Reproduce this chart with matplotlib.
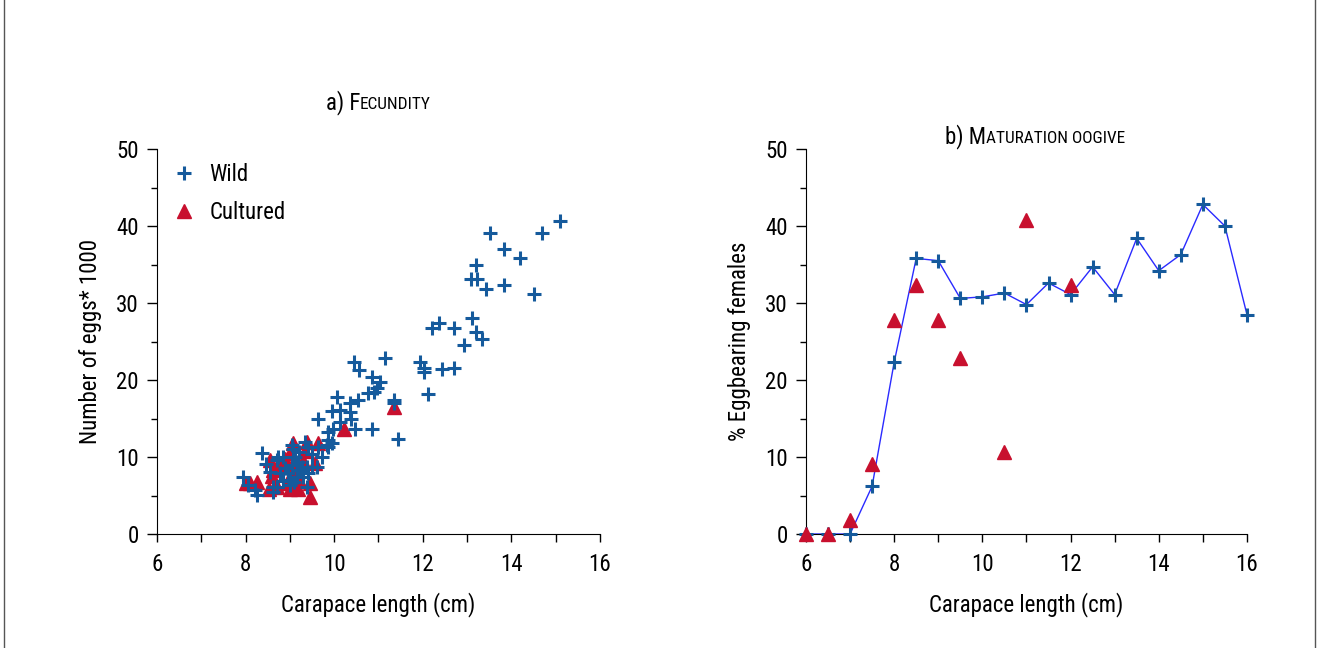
import matplotlib
matplotlib.use("Agg")
import matplotlib.pyplot as plt
from matplotlib import font_manager
from matplotlib.ticker import MultipleLocator
from matplotlib.lines import Line2D

names = {f.name for f in font_manager.fontManager.ttflist}
if "Roboto Condensed" in names:
    FONT = ["Roboto Condensed", "DejaVu Sans"]
    FS = 16.5
else:
    FONT = ["Roboto", "DejaVu Sans"]
    FS = 16
plt.rcParams["font.family"] = FONT
plt.rcParams["font.size"] = FS

WILD_BLUE = "#155a9c"
CULT_RED = "#c8102e"
LINE_BLUE = "#2a2aff"

# a) fecundity - wild females (carapace length cm, eggs * 1000)
wild_len = [7.95, 8.05, 8.21, 8.25, 8.38, 8.45, 8.63, 8.55, 8.70, 8.74,
            8.85, 8.78, 8.85, 8.96, 9.00, 8.70, 8.63, 9.04, 9.08, 9.34,
            9.42, 9.12, 9.19, 9.27, 9.38, 9.49, 9.23, 9.15, 9.30, 9.42,
            9.61, 9.00, 9.38, 9.64, 9.72, 9.83, 9.87, 9.94, 9.86, 9.64,
            9.87, 9.98, 9.94, 10.13, 10.06, 10.36, 10.36, 10.37, 10.13, 10.47,
            10.54, 10.77, 10.90, 10.97, 10.85, 11.03, 10.45, 10.55, 11.14, 10.85,
            11.36, 11.36, 11.45, 11.94, 12.03, 12.03, 12.43, 12.70, 12.12, 12.20,
            12.36, 12.71, 13.21, 13.34, 12.94, 13.11, 13.10, 13.22, 13.21, 13.43,
            13.84, 14.52, 14.20, 13.84, 13.52, 14.70, 15.10, 9.05, 9.20, 8.90,
            9.50, 9.10]
wild_eggs = [7.4, 6.4, 5.7, 5.1, 10.5, 9.1, 5.5, 8.0, 9.6, 10.0,
             10.0, 7.9, 6.9, 7.9, 6.4, 6.1, 6.1, 11.6, 11.1, 12.0,
             11.3, 10.0, 9.4, 8.7, 8.7, 8.7, 8.3, 7.4, 7.4, 7.9,
             8.7, 7.0, 6.1, 11.3, 10.0, 11.6, 12.2, 11.8, 11.3, 14.9,
             13.3, 13.7, 16.0, 16.1, 17.8, 17.0, 15.8, 14.9, 14.6, 13.6,
             17.4, 18.3, 18.5, 18.9, 20.4, 19.8, 22.4, 21.3, 22.9, 13.6,
             17.4, 17.0, 12.3, 22.4, 21.5, 21.0, 21.4, 21.6, 18.2, 26.8,
             27.4, 26.8, 26.3, 25.3, 24.5, 28.1, 33.1, 33.1, 34.9, 31.8,
             32.3, 31.2, 35.9, 37.0, 39.05, 39.05, 40.6, 9.0, 10.6, 8.6,
             10.4, 6.8]

# a) fecundity - cultured females
cult_len = [8.02, 8.25, 8.10, 8.55, 8.63, 8.54, 8.70, 8.78, 8.93, 9.08,
            9.38, 9.64, 9.57, 9.45, 9.45, 9.19, 10.23, 11.36, 9.00, 9.10,
            9.30, 8.90, 9.20, 9.00, 9.35, 8.60]
cult_eggs = [6.6, 6.8, 6.6, 9.6, 8.3, 5.9, 6.1, 8.7, 6.6, 11.8,
             12.0, 11.8, 9.2, 6.6, 4.8, 5.9, 13.7, 16.5, 10.5, 8.5,
             9.5, 9.8, 7.0, 5.9, 10.8, 7.5]

# b) maturation oogive
ogive_len = [6, 6.5, 7, 7.5, 8, 8.5, 9, 9.5, 10, 10.5, 11,
             11.5, 12, 12.5, 13, 13.5, 14, 14.5, 15, 15.5, 16]
ogive_wild = [0, 0, 0, 6.2, 22.3, 35.8, 35.5, 30.6, 30.8, 31.3, 29.8,
              32.6, 31.1, 34.7, 31.1, 38.4, 34.2, 36.3, 42.8, 40.0, 28.5]
ogive_cult_len = [6, 6.5, 7, 7.5, 8, 8.5, 9, 9.5, 10.5, 11, 12]
ogive_cult = [0, 0, 1.8, 9.1, 27.8, 32.4, 27.8, 22.8, 10.6, 40.8, 32.4]


def style_axes(ax):
    ax.spines["top"].set_visible(False)
    ax.spines["right"].set_visible(False)
    ax.set_xlim(6, 16)
    ax.set_ylim(0, 50)
    ax.set_xticks([6, 8, 10, 12, 14, 16])
    ax.xaxis.set_minor_locator(MultipleLocator(1))
    ax.yaxis.set_major_locator(MultipleLocator(10))
    ax.yaxis.set_minor_locator(MultipleLocator(5))
    ax.tick_params(axis="x", which="both", direction="out", length=6, width=1, pad=8)
    ax.tick_params(axis="y", which="major", direction="out", length=7, width=1, pad=6)
    ax.tick_params(axis="y", which="minor", direction="out", length=4, width=1)
    ax.set_xlabel("Carapace length (cm)", labelpad=11)


def smallcaps_title(fig, x_center, y, big, small, size, small_size):
    # big first letter, small caps for the rest
    r = fig.canvas.get_renderer()
    t1 = fig.text(0, y, big, fontsize=size, va="baseline")
    t2 = fig.text(0, y, small, fontsize=small_size, va="baseline")
    w1 = t1.get_window_extent(r).width / fig.bbox.width
    w2 = t2.get_window_extent(r).width / fig.bbox.width
    x0 = x_center - (w1 + w2) / 2
    t1.set_x(x0)
    t2.set_x(x0 + w1)


fig = plt.figure(figsize=(13.18, 6.48), dpi=100)
ax1 = fig.add_axes([0.1191, 0.1759, 0.3361, 0.5941])
ax2 = fig.add_axes([0.6115, 0.1759, 0.3346, 0.5941])

# left panel
ax1.plot(cult_len, cult_eggs, linestyle="none", marker="^", ms=10,
         color=CULT_RED, mec=CULT_RED, zorder=3, clip_on=False)
ax1.plot(wild_len, wild_eggs, linestyle="none", marker="+", ms=10, mew=2.2,
         color=WILD_BLUE, zorder=4, clip_on=False)
style_axes(ax1)
ax1.set_ylabel("Number of eggs* 1000", labelpad=10)
handles = [Line2D([], [], linestyle="none", marker="+", ms=10, mew=2.2, color=WILD_BLUE),
           Line2D([], [], linestyle="none", marker="^", ms=10, color=CULT_RED)]
ax1.legend(handles, ["Wild", "Cultured"], loc="upper left", frameon=False,
           bbox_to_anchor=(0.0, 1.005), handlelength=1.0, handletextpad=0.6,
           labelspacing=0.65, borderaxespad=0.3)

# right panel
ax2.plot(ogive_len, ogive_wild, color=LINE_BLUE, lw=1, zorder=2, clip_on=False)
ax2.plot(ogive_len, ogive_wild, linestyle="none", marker="+", ms=10, mew=2.2,
         color=WILD_BLUE, zorder=3, clip_on=False)
ax2.plot(ogive_cult_len, ogive_cult, linestyle="none", marker="^", ms=10,
         color=CULT_RED, mec=CULT_RED, zorder=4, clip_on=False)
style_axes(ax2)
ax2.set_ylabel("% Eggbearing females", labelpad=10)

smallcaps_title(fig, 0.287, 1 - 109 / 648, "a) F", "ECUNDITY", FS, FS * 0.75)
smallcaps_title(fig, 0.785, 1 - 143 / 648, "b) M", "ATURATION OOGIVE", FS, FS * 0.75)

# frame lines at the image edges
for xf in (3.5 / 1318, 1314.5 / 1318):
    fig.add_artist(Line2D([xf, xf], [0, 1], color="#555555", lw=1))

fig.savefig("out.png", dpi=100)
